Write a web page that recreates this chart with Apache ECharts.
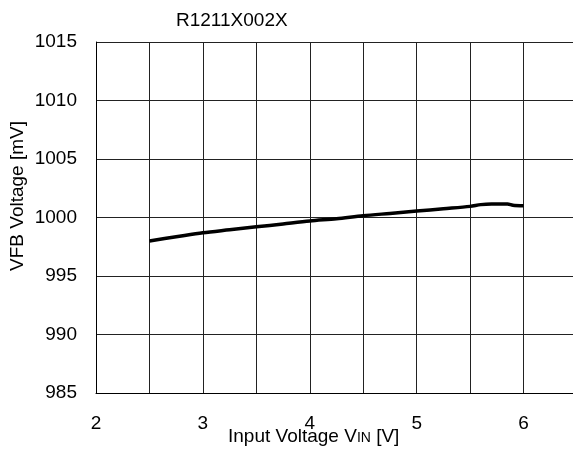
<!DOCTYPE html>
<html>
<head>
<meta charset="utf-8">
<script src="https://cdn.jsdelivr.net/npm/echarts@6/dist/echarts.min.js"></script>
<style>
  html, body { margin: 0; padding: 0; background: #fff; }
  #chart { width: 573px; height: 452px; }
</style>
</head>
<body>
<div id="chart"></div>
<script>
// Feedback voltage vs. input voltage
const inputVoltage = [2.5, 2.75, 3.0, 3.25, 3.5, 3.75, 4.0, 4.25, 4.5, 4.75, 5.0, 5.25, 5.5, 5.6, 5.7, 5.85, 5.9, 6.0];
const vfbVoltage   = [998.0, 998.35, 998.7, 998.95, 999.2, 999.45, 999.7, 999.9, 1000.15, 1000.35, 1000.55, 1000.75, 1000.95, 1001.1, 1001.15, 1001.15, 1001.05, 1001.0];
const xTickLabels = ['2', '3', '4', '5', '6'];
const yTickLabels = ['985', '990', '995', '1000', '1005', '1010', '1015'];

const chart = echarts.init(document.getElementById('chart'));
const font = 'Liberation Sans, Arial, sans-serif';
const fs = 19;

chart.setOption({
  backgroundColor: '#fff',
  animation: false,
  title: {
    text: 'R1211X002X',
    left: 171, top: 6,
    textStyle: { fontFamily: font, fontSize: fs, fontWeight: 'normal', color: '#000' }
  },
  // the plot runs a little past the right edge of the canvas
  grid: { left: 96, top: 42, width: 481, height: 351, containLabel: false, outerBoundsMode: 'none' },
  xAxis: {
    type: 'value', min: 2, max: 6.5, interval: 0.5,
    axisLine: { show: true, lineStyle: { color: '#000', width: 1 } },
    axisTick: { show: false },
    splitLine: { show: true, lineStyle: { color: '#222', width: 1 } },
    axisLabel: {
      fontFamily: font, fontSize: fs, color: '#000', margin: 21,
      formatter: v => {
        const s = String(v);
        return xTickLabels.includes(s) ? s : '';
      }
    }
  },
  yAxis: {
    type: 'value', min: 985, max: 1015, interval: 5,
    axisLine: { show: true, lineStyle: { color: '#000', width: 1 } },
    axisTick: { show: false },
    splitLine: { show: true, lineStyle: { color: '#222', width: 1 } },
    axisLabel: {
      fontFamily: font, fontSize: fs, color: '#000', margin: 19,
      formatter: v => yTickLabels.includes(String(v)) ? String(v) : ''
    }
  },
  graphic: [
    {
      type: 'text', left: 228, top: 427,
      style: {
        text: '{a|Input Voltage V}{b|IN}{a| [V]}',
        rich: {
          a: { fontFamily: font, fontSize: fs, fill: '#000' },
          b: { fontFamily: font, fontSize: 14, fill: '#000', padding: [4, 0, 0, 0] }
        }
      }
    },
    {
      type: 'text', x: 18, y: 196, rotation: Math.PI / 2,
      style: {
        text: 'VFB Voltage [mV]',
        fontFamily: font, fontSize: fs, fill: '#000',
        textAlign: 'center', textVerticalAlign: 'middle'
      }
    }
  ],
  series: [{
    type: 'line',
    data: inputVoltage.map((x, i) => [x, vfbVoltage[i]]),
    showSymbol: false,
    smooth: 0.3,
    lineStyle: { color: '#000', width: 3.5 }
  }]
});
</script>
</body>
</html>
